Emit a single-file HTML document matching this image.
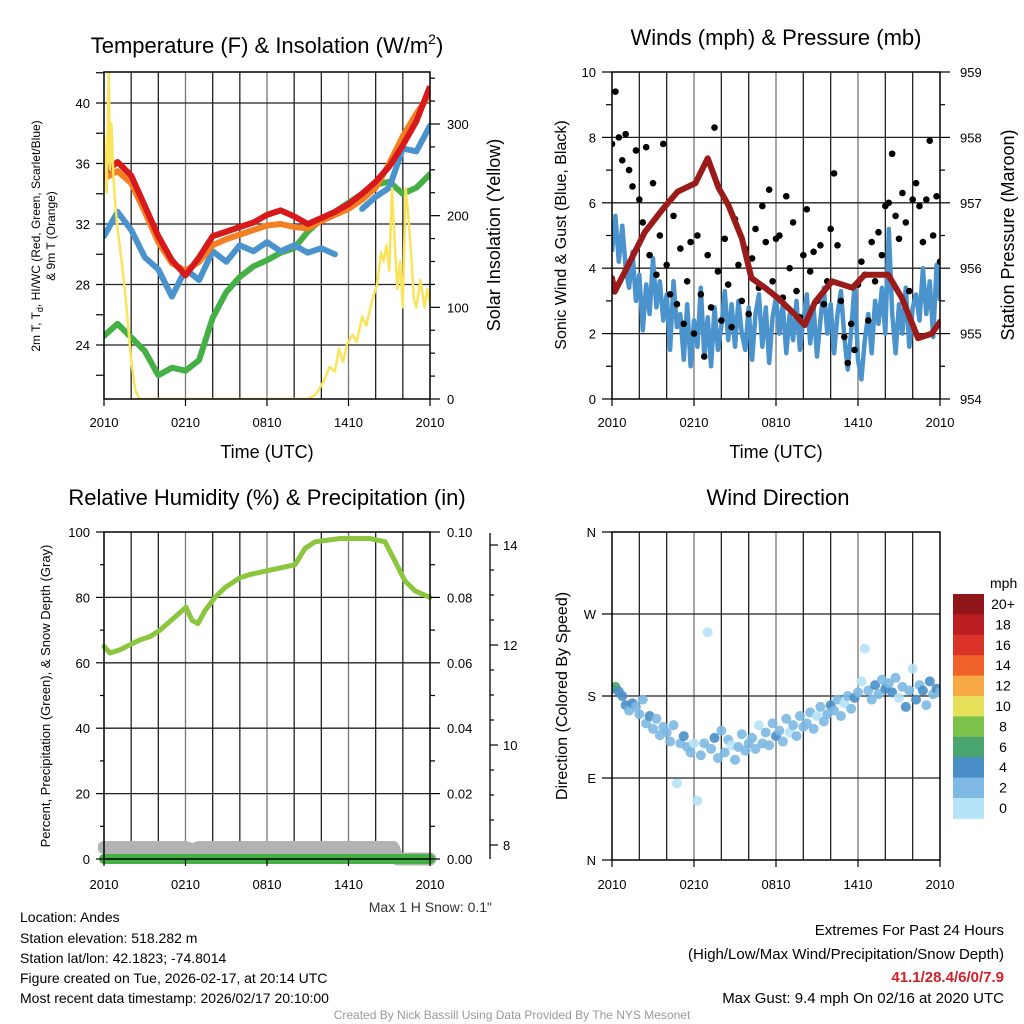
<!DOCTYPE html>
<html><head><meta charset="utf-8">
<style>
html,body{margin:0;padding:0;background:#fff;}
svg{display:block;font-family:"Liberation Sans",Arial,sans-serif;}
</style></head>
<body>
<svg id="chart" width="1024" height="1024" viewBox="0 0 1024 1024" xmlns="http://www.w3.org/2000/svg">
<defs>
<clipPath id="c1"><rect x="104" y="72" width="326" height="327"/></clipPath>
<clipPath id="c2"><rect x="612" y="72" width="328" height="327"/></clipPath>
<clipPath id="c3"><rect x="98" y="532" width="340" height="336"/></clipPath>
<clipPath id="c4"><rect x="612" y="532" width="328" height="328"/></clipPath>
</defs>
<g id="grids"></g>
<g id="series"></g>
<g id="frames"></g>
<g id="axes" font-size="13"></g>

<text x="267" y="53" font-size="22" text-anchor="middle">Temperature (F) &amp; Insolation (W/m<tspan font-size="14" dy="-9">2</tspan><tspan dy="9">)</tspan></text>
<text x="776" y="45" font-size="22" text-anchor="middle">Winds (mph) &amp; Pressure (mb)</text>
<text x="267" y="505" font-size="22" text-anchor="middle">Relative Humidity (%) &amp; Precipitation (in)</text>
<text x="778" y="505" font-size="22" text-anchor="middle">Wind Direction</text>

<text x="267" y="458" font-size="18" text-anchor="middle">Time (UTC)</text>
<text x="776" y="458" font-size="18" text-anchor="middle">Time (UTC)</text>

<text transform="translate(40,236) rotate(-90)" font-size="12" text-anchor="middle">2m T, T<tspan font-size="9" dy="3">d</tspan><tspan dy="-3">, HI/WC (Red, Green, Scarlet/Blue)</tspan></text>
<text transform="translate(55,236) rotate(-90)" font-size="12" text-anchor="middle">&amp; 9m T (Orange)</text>
<text transform="translate(500,235) rotate(-90)" font-size="18" text-anchor="middle">Solar Insolation (Yellow)</text>
<text transform="translate(566,235) rotate(-90)" font-size="16" text-anchor="middle">Sonic Wind &amp; Gust (Blue, Black)</text>
<text transform="translate(1014,235) rotate(-90)" font-size="18" text-anchor="middle">Station Pressure (Maroon)</text>
<text transform="translate(50,696) rotate(-90)" font-size="13" text-anchor="middle">Percent, Precipitation (Green), &amp; Snow Depth (Gray)</text>
<text transform="translate(567,696) rotate(-90)" font-size="16" text-anchor="middle">Direction (Colored By Speed)</text>

<text x="492" y="912" font-size="14" fill="#333" text-anchor="end">Max 1 H Snow: 0.1"</text>

<g font-size="14">
<text x="20" y="922">Location: Andes</text>
<text x="20" y="943">Station elevation: 518.282 m</text>
<text x="20" y="963">Station lat/lon: 42.1823; -74.8014</text>
<text x="20" y="983">Figure created on Tue, 2026-02-17, at 20:14 UTC</text>
<text x="20" y="1003">Most recent data timestamp: 2026/02/17 20:10:00</text>
</g>
<g font-size="15" text-anchor="end">
<text x="1004" y="935">Extremes For Past 24 Hours</text>
<text x="1004" y="959">(High/Low/Max Wind/Precipitation/Snow Depth)</text>
<text x="1004" y="982" fill="#d11f26" font-weight="bold">41.1/28.4/6/0/7.9</text>
<text x="1004" y="1003">Max Gust: 9.4 mph On 02/16 at 2020 UTC</text>
</g>
<text x="512" y="1019" font-size="12" fill="#999" text-anchor="middle">Created By Nick Bassill Using Data Provided By The NYS Mesonet</text>
<text x="990" y="588" font-size="14">mph</text>
</svg>
<script>
// ---------- DATA ----------
const hours = [0,1,2,3,4,5,6,7,8,9,10,11,12,13,14,15,16,17,18,19,20,21,22,23,24];
const temp2m = [35.4,36.1,35.2,33.2,31.2,29.6,28.6,29.8,31.2,31.5,31.8,32.1,32.6,32.9,32.5,32.0,32.4,32.8,33.3,34.0,34.8,35.8,37.2,38.8,41.1];
const temp9m = [35.0,35.5,34.7,32.8,30.8,29.4,28.9,29.5,30.6,31.0,31.3,31.6,31.9,32.0,31.8,31.7,32.2,32.6,33.0,33.6,34.4,36.0,37.8,39.3,40.6];
const windChill = [31.2,32.8,31.6,29.8,29.0,27.2,29.0,28.3,30.2,29.5,30.6,30.2,30.8,30.2,30.6,30.1,30.4,30.0,null,33.0,33.8,34.4,37.0,36.8,38.5];
const dewPoint = [24.6,25.4,24.5,23.6,22.0,22.5,22.3,23.0,25.8,27.5,28.5,29.2,29.6,30.1,30.4,31.5,32.3,32.8,33.4,34.0,34.6,34.8,34.0,34.4,35.3];
const solarTimes = [0,0.2,0.35,0.45,0.55,0.7,0.85,1.0,1.3,1.6,2.0,2.3,2.6,3.0,15.0,15.6,16.2,16.6,17.0,17.3,17.6,17.9,18.3,18.6,19.0,19.3,19.7,20.1,20.4,20.6,20.8,21.0,21.2,21.4,21.6,21.8,22.0,22.2,22.4,22.6,22.8,23.0,23.3,23.6,23.8,24.0];
const solarValues = [290,225,359,250,300,240,210,185,150,110,42,10,0,0,0,5,20,35,30,55,40,60,70,62,90,80,105,125,160,150,168,140,230,170,120,150,100,230,200,160,110,100,130,100,120,105];
const pressTimes = [0,0.2,0.95,2.4,3.7,4.8,6.1,7.0,7.8,8.5,9.5,10.2,11.2,12.1,13.2,14.1,14.85,16.1,17.6,18.5,20.2,21.2,22.4,23.4,24];
const pressValues = [955.85,955.64,955.95,956.55,956.9,957.17,957.3,957.68,957.23,956.97,956.46,955.85,955.7,955.55,955.33,955.13,955.48,955.8,955.7,955.9,955.9,955.55,954.93,955.0,955.18];
const windSpeed = [4.5,5.6,4.2,5.3,4.0,3.4,4.5,3.0,3.8,
2.1,3.5,2.6,4.3,2.8,3.6,2.4,3.2,
1.5,3.6,2.2,2.6,1.2,2.9,1.0,2.4,
1.6,3.4,1.3,2.5,1.0,2.8,1.5,2.2,
3.3,1.8,2.9,1.6,3.0,2.0,1.5,2.8,
1.2,2.6,3.2,1.6,2.8,1.1,2.5,3.1,
2.0,2.9,1.4,2.6,1.8,3.0,1.5,2.4,
3.2,1.7,2.8,1.3,2.4,3.4,2.0,2.9,
1.4,2.6,3.3,1.9,0.9,2.1,3.5,1.2,
0.6,1.8,2.6,1.4,3.0,2.3,3.4,2.0,
5.2,2.6,1.4,2.9,2.0,3.4,1.6,2.8,
3.2,2.4,4.0,2.6,3.6,1.9,4.1,3.0];
const windGust = [7.8,9.4,8.0,7.3,8.1,7.0,6.5,7.6,6.1,
5.4,7.7,4.4,6.6,3.8,5.0,7.8,4.1,
3.2,5.6,2.9,4.6,2.3,3.6,4.8,2.0,
5.0,3.2,1.3,4.4,2.8,8.3,3.9,2.4,
4.9,3.5,2.2,5.5,4.1,3.0,4.6,2.6,
4.3,5.2,3.4,5.9,4.8,6.4,3.6,4.9,
5.0,3.1,6.2,4.0,5.4,3.3,2.5,4.4,
5.8,3.9,4.5,3.0,4.7,2.9,3.6,5.2,
6.9,4.7,3.0,1.9,1.1,2.3,1.5,3.5,
4.2,3.8,2.4,4.8,3.6,5.1,4.4,5.9,
6.0,7.5,5.6,4.9,6.3,5.4,3.3,6.1,
6.6,5.9,4.8,6.1,7.9,5.0,6.2,4.2];
const rhTimes = [0,0.44,1.18,2.65,3.39,4.12,5.23,6.04,6.48,6.92,7.44,8.17,8.91,10.0,10.75,11.86,12.96,14.06,14.8,15.54,17.38,19.59,20.69,21.43,22.16,22.9,24];
const rhValues = [65,63,64,67,68,70,74,77,73,72,76,80,83,86,87,88,89,90,95,97,98,98,97,91,85,82,80];
const precipTimes = [0,24];
const precipValues = [0,0];
const snowTimes = [0,6,6.5,7,21.3,21.6,24];
const snowValues = [7.95,7.95,7.9,7.95,7.95,7.72,7.72];
const windDir = [188,190,185,180,170,164,172,168,160,
176,150,158,144,155,137,146,140,
130,148,84,128,136,124,118,128,
65,115,128,250,122,134,112,142,
118,132,126,110,124,138,120,128,
134,122,148,128,140,126,150,136,
142,130,155,140,148,136,158,146,
150,162,144,158,168,152,160,170,
164,176,158,172,180,166,178,184,
196,232,186,176,192,182,198,188,
194,184,200,178,190,168,186,210,
176,192,186,170,196,182,188,184];
const dirSpeed = [5.5,6.4,4.6,5.0,4.3,3.4,4.5,3.0,2.8,
3.2,2.6,4.1,3.0,2.4,3.5,2.8,3.1,
2.7,3.3,1.2,2.9,4.2,2.6,3.0,1.8,
1.1,2.5,3.1,1.0,2.8,4.4,2.2,3.0,
2.9,3.1,1.6,2.7,3.3,2.5,3.0,2.4,
3.2,2.8,1.5,3.0,2.6,3.4,2.9,4.3,
2.7,3.1,2.5,1.7,3.2,2.8,3.5,2.6,
3.0,2.4,3.3,1.8,2.9,3.1,2.2,4.2,
2.6,3.3,2.8,1.4,3.0,2.7,4.5,3.1,
1.3,1.5,3.2,2.6,4.1,3.0,2.8,4.6,
3.3,4.4,2.7,1.6,3.5,4.2,3.0,1.9,
4.1,3.2,4.5,2.8,4.3,3.6,4.7,3.4];
const timeLabels = ["2010","0210","0810","1410","2010"];
const tempTicks = [40,36,32,28,24];
const solarTicks = [300,200,100,0];
const windTicks = [10,8,6,4,2,0];
const pressTicks = [959,958,957,956,955,954];
const rhTicks = [100,80,60,40,20,0];
const precipTicks = ["0.10","0.08","0.06","0.04","0.02","0.00"];
const snowTicks = [14,12,10,8];
const dirTicks = ["N","E","S","W","N"];
const speedLabels = ["20+","18","16","14","12","10","8","6","4","2","0"];
const speedColors = ["#b5e3f7","#7db9e3","#4a8ec6","#4aa66e","#7cc24a","#e6e05a","#f6a945","#ef632a","#dc3328","#bb1d23","#8f1519"];

// ---------- SCALES ----------
const x1 = t => 104 + t*326/24;
const x2 = t => 612 + t*328/24;
const yT = v => 103 + (40-v)*15.125;
const yS = v => 399 - v*0.9167;
const yW = v => 399 - v*32.7;
const yP = v => 399 - (v-954)*65.4;
const yRH = v => 859 - v*3.27;
const yPr = v => 859 - v*3270;
const ySn = v => 845 - (v-8)*50;
const yD = v => 860 - v*0.9111;

const NS = "http://www.w3.org/2000/svg";
const G = id => document.getElementById(id);
function el(tag, attrs, parent){ const e=document.createElementNS(NS,tag); for(const k in attrs) e.setAttribute(k,attrs[k]); parent.appendChild(e); return e; }
function pathD(ts, vs, fx, fy){ let d="", pen=false; for(let i=0;i<ts.length;i++){ if(vs[i]===null){pen=false;continue;} d+=(pen?"L":"M")+fx(ts[i]).toFixed(1)+","+fy(vs[i]).toFixed(1); pen=true;} return d; }
const q = i => i*0.25;

// ---------- GRIDS ----------
const grids = G("grids");
const panels = [[104,430,72,399,x1],[612,940,72,399,x2],[104,430,532,859,x1],[612,940,532,860,x2]];
panels.forEach((p,pi)=>{
  for(let h=2;h<24;h+=2){
    const ln = el("line",{x1:p[4](h),x2:p[4](h),y1:p[2],y2:p[3],stroke:h%6===0?"#777":"#222","stroke-width":1.3},grids);
    
    
  }
});
function hgrid(x0,x1_,y){ const ln=el("line",{x1:x0,x2:x1_,y1:y,y2:y,stroke:"#222","stroke-width":1.3},grids);
  
   }
tempTicks.forEach(v=>hgrid(104,430,yT(v)));
[8,6,4,2].forEach(v=>hgrid(612,940,yW(v)));
[80,60,40,20].forEach(v=>hgrid(104,430,yRH(v)));
[90,180,270].forEach(v=>hgrid(612,940,yD(v)));

// ---------- SERIES ----------
const S = G("series");
const g1 = el("g",{"clip-path":"url(#c1)"},S);


const dew = el("path",{d:pathD(hours,dewPoint,x1,yT),fill:"none",stroke:"#45b045","stroke-width":6,"stroke-linejoin":"round","stroke-linecap":"round"},g1);


const wc = el("path",{d:pathD(hours,windChill,x1,yT),fill:"none",stroke:"#4b93cc","stroke-width":6,"stroke-linejoin":"round","stroke-linecap":"round"},g1);


const t9 = el("path",{d:pathD(hours,temp9m,x1,yT),fill:"none",stroke:"#f47f22","stroke-width":6,"stroke-linejoin":"round"},g1);


const t2 = el("path",{d:pathD(hours,temp2m,x1,yT),fill:"none",stroke:"#d7191c","stroke-width":6,"stroke-linejoin":"round"},g1);


const sol = el("path",{d:pathD(solarTimes,solarValues,x1,yS),fill:"none",stroke:"#f9e45b","stroke-width":2.5,"stroke-linejoin":"round"},g1);



const g2 = el("g",{"clip-path":"url(#c2)"},S);


const wTimes = windSpeed.map((v,i)=>q(i));
const ws = el("path",{d:pathD(wTimes,windSpeed,x2,yW),fill:"none",stroke:"#4b93cc","stroke-width":4.5,"stroke-linejoin":"round"},g2);


windGust.forEach((v,i)=>{
  const c = el("circle",{cx:x2(q(i)),cy:yW(v),r:3.3,fill:"#000"},g2);
  
  
});
const pr = el("path",{d:pathD(pressTimes,pressValues,x2,yP),fill:"none",stroke:"#9b1b1b","stroke-width":6,"stroke-linejoin":"round","stroke-linecap":"round"},g2);



const g3 = el("g",{"clip-path":"url(#c3)"},S);


const rh = el("path",{d:pathD(rhTimes,rhValues,x1,yRH),fill:"none",stroke:"#8cc63f","stroke-width":5,"stroke-linejoin":"round","stroke-linecap":"round"},g3);


const sn = el("path",{d:pathD(snowTimes,snowValues,x1,ySn),fill:"none",stroke:"#b3b3b3","stroke-width":13,"stroke-linejoin":"round","stroke-linecap":"round"},g3);


const pc = el("path",{d:pathD(precipTimes,precipValues,x1,yPr),fill:"none",stroke:"#45b045","stroke-width":10,"stroke-linecap":"round"},g3);



const g4 = el("g",{"clip-path":"url(#c4)"},S);


windDir.forEach((d,i)=>{
  const bin = Math.min(10, Math.floor(dirSpeed[i]/2));
  const c = el("circle",{cx:x2(q(i)),cy:yD(d),r:5,fill:speedColors[bin],"fill-opacity":0.9},g4);
  
  
});

// ---------- FRAMES & AXES ----------
const F = G("frames");
panels.forEach(p=>{
  const r = el("rect",{x:p[0],y:p[2],width:p[1]-p[0],height:p[3]-p[2],fill:"none",stroke:"#000","stroke-width":1.5},F);
  
  
});
const A = G("axes");
function tick(x1_,y1_,x2_,y2_){ const t=el("line",{x1:x1_,y1:y1_,x2:x2_,y2:y2_,stroke:"#000","stroke-width":1.2},A);
  
   }
function label(x,y,s,anchor){ const t=el("text",{x:x,y:y,"text-anchor":anchor},A); t.textContent=s;
  
   }
// x axes
[[x1,403,427],[x2,403,427],[x1,863,889],[x2,864,889]].forEach(a=>{
  timeLabels.forEach((s,i)=>{ const x=a[0](i*6); tick(x,a[1]-4,x,a[1]+3); label(x,a[2],s,"middle"); });
});
// panel1
for(let v=22;v<=42;v+=2) tick(96,yT(v),104,yT(v));
tempTicks.forEach(v=>label(90,yT(v)+5,String(v),"end"));
for(let v=0;v<=350;v+=25) tick(430,yS(v),v%100===0?440:435,yS(v));
solarTicks.forEach(v=>label(447,yS(v)+5,String(v),"start"));
// panel2
for(let v=0;v<=10;v++) tick(v%2===0?602:606,yW(v),612,yW(v));
windTicks.forEach(v=>label(596,yW(v)+5,String(v),"end"));
for(let v=954;v<=959;v+=0.5) tick(940,yP(v),v%1===0?950:945,yP(v));
pressTicks.forEach(v=>label(960,yP(v)+5,String(v),"start"));
// panel3
for(let v=0;v<=100;v+=10) tick(v%20===0?96:100,yRH(v),104,yRH(v));
rhTicks.forEach(v=>label(90,yRH(v)+5,String(v),"end"));
for(let i=0;i<=10;i++){ const y=yPr(i*0.01); tick(430,y,i%2===0?440:435,y); }
precipTicks.forEach(s=>label(447,yPr(parseFloat(s))+5,s,"start"));
const sax = el("line",{x1:490,x2:490,y1:533,y2:859,stroke:"#000","stroke-width":1.3},A);


for(let v=7.5;v<=14.5;v+=0.5){ const y=ySn(v); if(y<533||y>859) continue; tick(490,y,v%2===0?498:494,y); }
snowTicks.forEach(v=>label(503,ySn(v)+5,String(v),"start"));
// panel4
dirTicks.forEach((s,i)=>{ const y=yD(i*90); tick(602,y,612,y); label(596,y+5,s,"end"); });
// colorbar
speedLabels.forEach((s,i)=>{
  const r = el("rect",{x:953,y:594+i*20.4,width:31,height:20.8,fill:speedColors[10-i]},A);
  
  
  const t = el("text",{x:1003,y:609+i*20.4,"text-anchor":"middle","font-size":14},A);
  t.textContent = s;
  
  
});
</script>
</body></html>
